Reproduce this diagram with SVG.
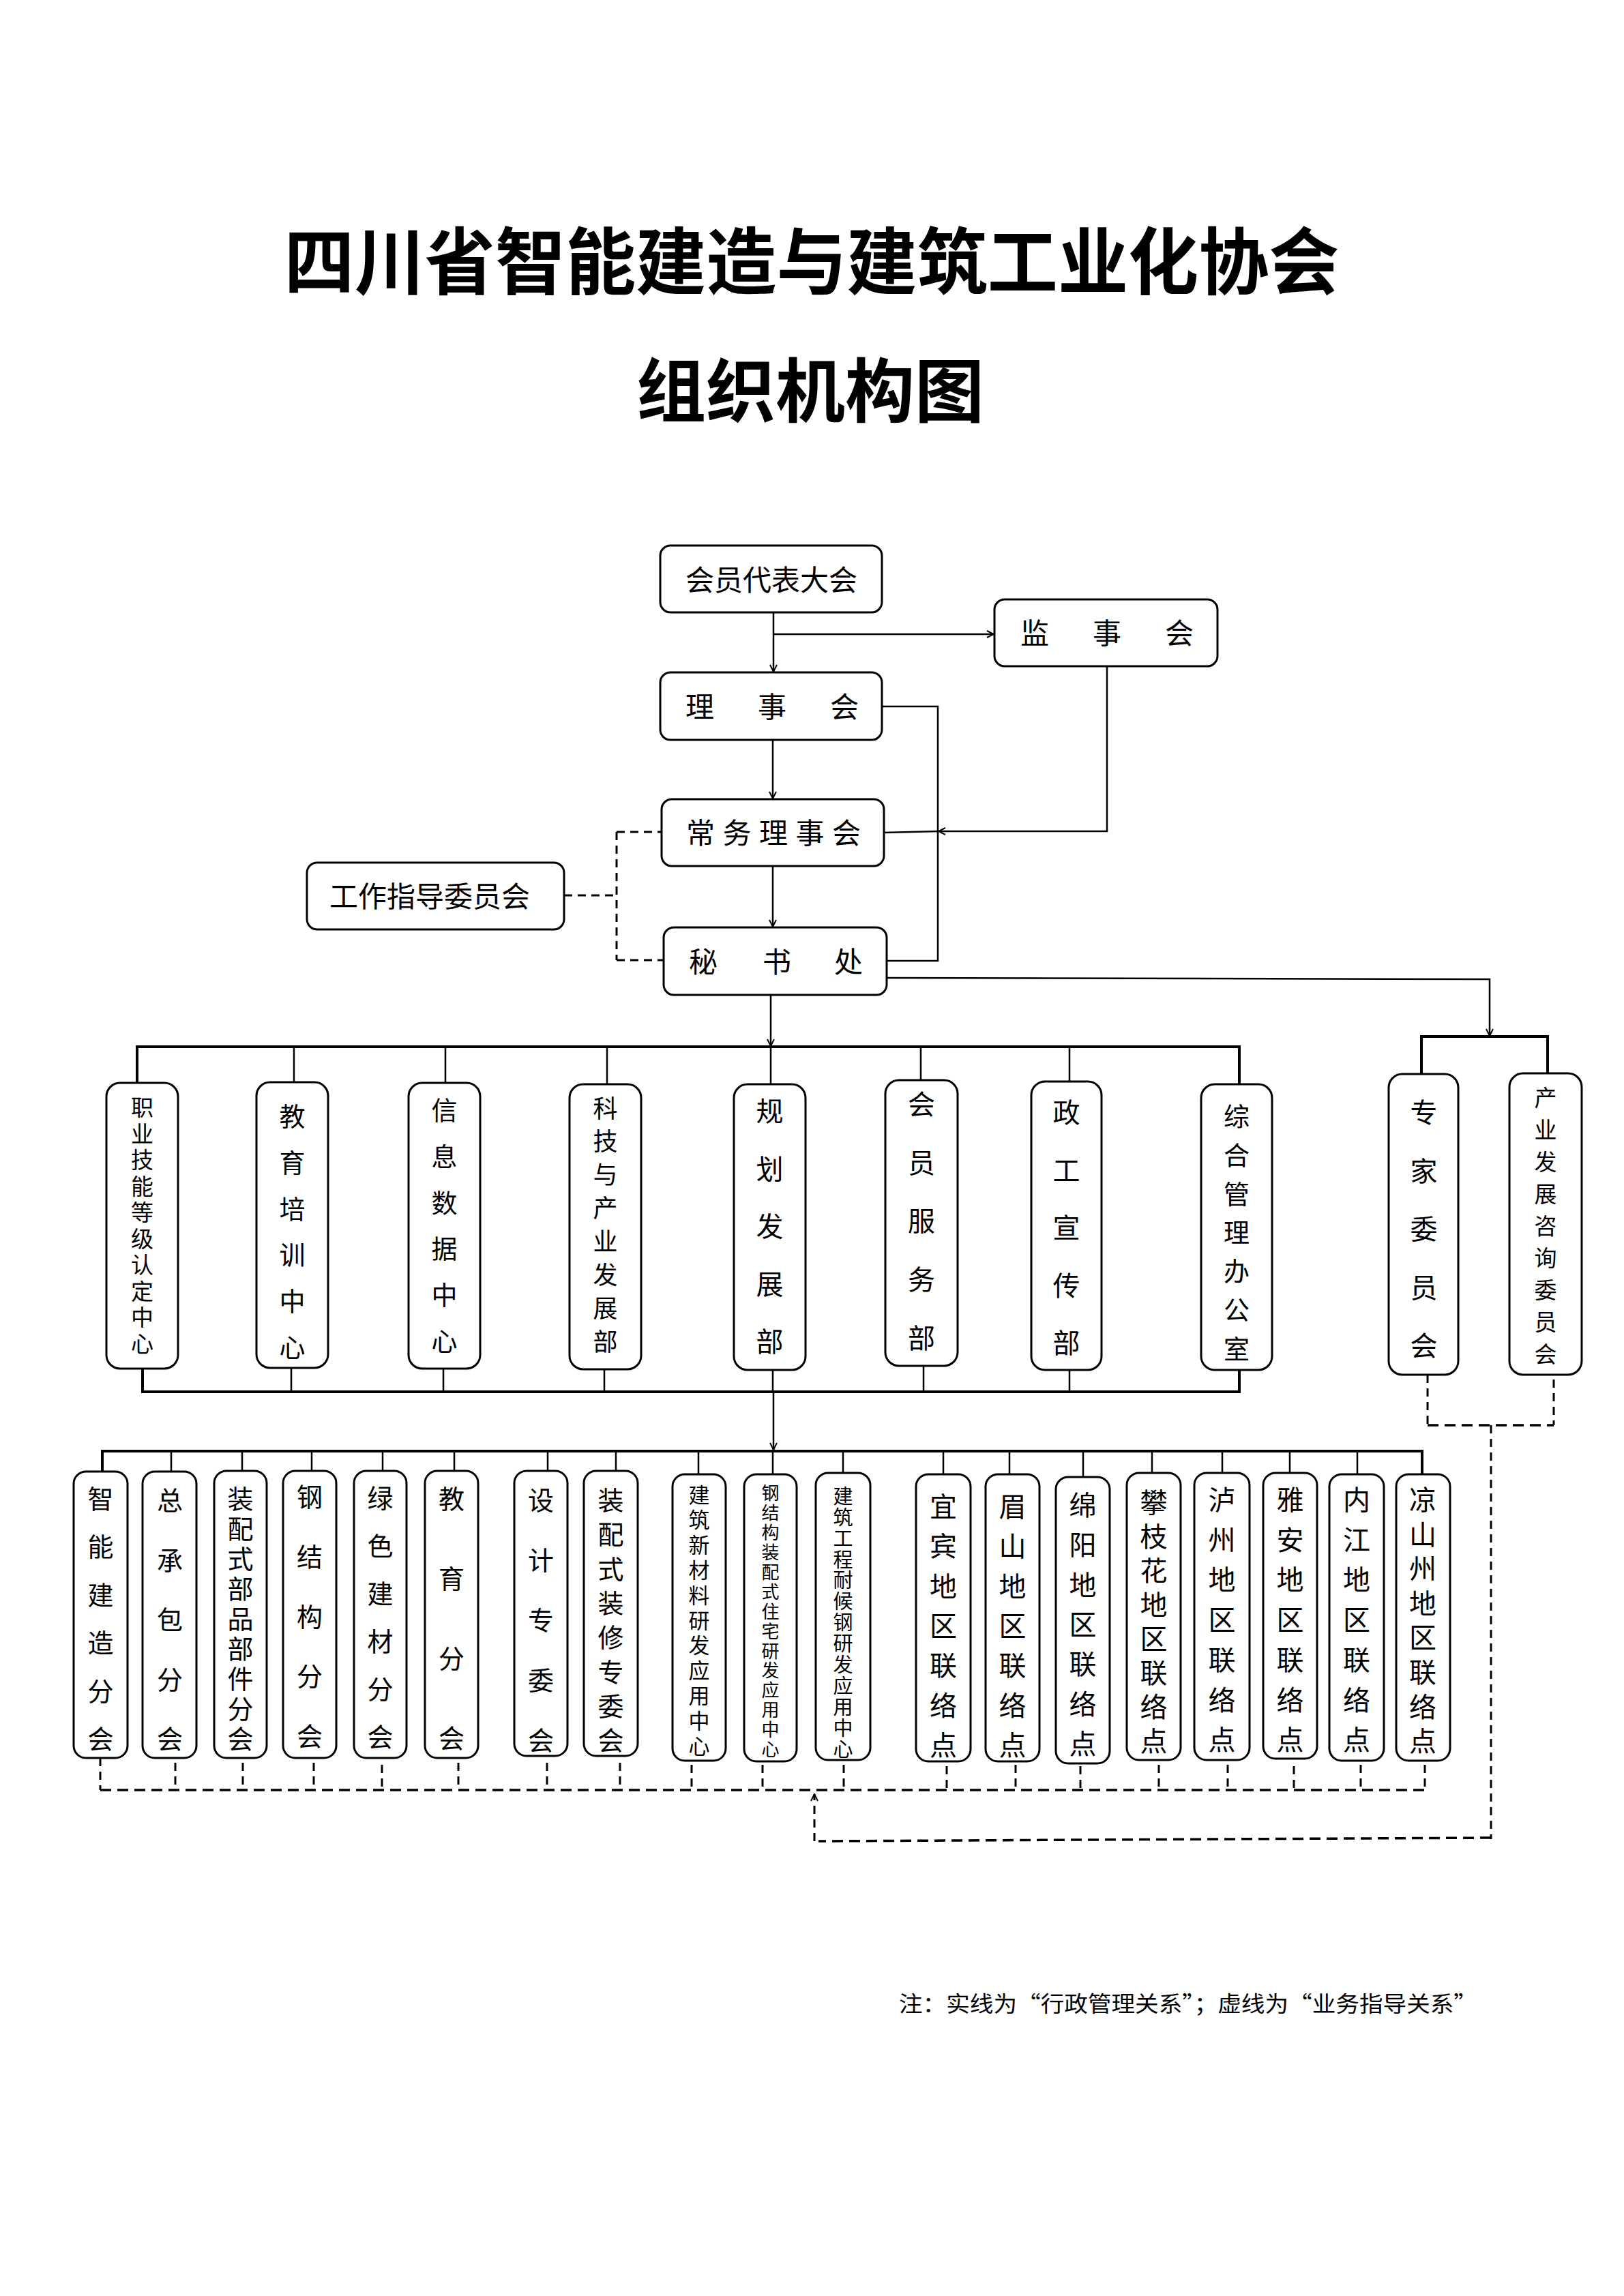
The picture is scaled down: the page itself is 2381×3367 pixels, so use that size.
<svg xmlns="http://www.w3.org/2000/svg" width="2381" height="3367" viewBox="0 0 2381 3367">
<style>
.bg{fill:#fff}
.box{fill:#fff;stroke:#000;stroke-width:3}
.t{font-family:"Noto Sans CJK SC","Liberation Sans",sans-serif;fill:#000}
.h{font-size:42px;text-anchor:middle}
.v{text-anchor:middle}
.ttl{font-family:"Noto Sans CJK SC","Liberation Sans",sans-serif;font-weight:700;fill:#000;text-anchor:middle}
.ln{fill:none;stroke:#000;stroke-width:2.5}
.thk{fill:none;stroke:#000;stroke-width:4}
.dh{fill:none;stroke:#000;stroke-width:3.5;stroke-dasharray:16 9}
.dv{fill:none;stroke:#000;stroke-width:3;stroke-dasharray:12 8}
</style>
<defs>
<marker id="arr" viewBox="0 0 12 12" refX="11" refY="6" markerWidth="12" markerHeight="12" markerUnits="userSpaceOnUse" orient="auto">
<path d="M1,1 L11,6 L1,11" fill="none" stroke="#000" stroke-width="2"/>
</marker>
</defs>
<rect class="bg" x="0" y="0" width="2381" height="3367"/>

<g id="title">
<text class="ttl" x="1190" y="423" font-size="107" textLength="1547" lengthAdjust="spacingAndGlyphs">四川省智能建造与建筑工业化协会</text>
<text class="ttl" x="1188" y="611" font-size="102" textLength="510" lengthAdjust="spacingAndGlyphs">组织机构图</text>
</g>

<g id="connectors">
<path class="ln" d="M1134,898 V985" marker-end="url(#arr)"/>
<path class="ln" d="M1134,930 H1457" marker-end="url(#arr)"/>
<path class="ln" d="M1133,1085 V1171" marker-end="url(#arr)"/>
<path class="ln" d="M1133,1270 V1359" marker-end="url(#arr)"/>
<path class="ln" d="M1293,1036 H1375 V1409 H1300"/>
<path class="ln" d="M1623,977 V1219 H1376" marker-end="url(#arr)"/>
<path class="ln" d="M1296,1221 L1376,1219"/>
<path class="dv" d="M827,1313 H904 M904,1220 V1408 M904,1220 H970 M904,1408 H973" stroke-dasharray="12 8"/>
<path class="ln" d="M1130,1459 V1534" marker-end="url(#arr)"/>
<path class="ln" d="M1300,1434 L2184,1436 V1519" marker-end="url(#arr)"/>
<path class="thk" d="M2084,1575 V1520 H2269 V1574"/>
<path class="thk" d="M201,1588 V1535 H1817 V1590"/>
<path class="ln" d="M431,1535 V1587 M653,1535 V1588 M890,1535 V1590 M1130,1535 V1590 M1350,1535 V1584 M1568,1535 V1586"/>
<path class="thk" d="M209,2007 V2041 H1817 V2009"/>
<path class="ln" d="M427,2006 V2041 M650,2007 V2041 M886,2008 V2041 M1133,2009 V2041 M1354,2003 V2041 M1568,2009 V2041"/>
<path class="ln" d="M1134,2041 V2126" marker-end="url(#arr)"/>
<path class="thk" d="M150,2158 V2128 H2087 M2085,2128 V2162"/>
<path class="ln" d="M251,2128 V2158 M355,2128 V2157 M457,2128 V2157 M561,2128 V2157 M666,2128 V2157 M803,2128 V2157 M903,2128 V2157 M1024,2128 V2162 M1133,2128 V2162 M1236,2128 V2160 M1383,2128 V2162 M1480,2128 V2162 M1588,2128 V2166 M1689,2128 V2160 M1792,2128 V2160 M1891,2128 V2160 M1990,2128 V2162"/>
<path class="dv" d="M2093,2016 V2090 M2278,2023 V2090"/>
<path class="dh" d="M2093,2090 H2278"/>
<path class="dv" d="M2186,2090 V2697" stroke-dasharray="16 10"/>
<path class="dh" d="M2186,2695 L1200,2700"/>
<path class="dv" d="M1194,2700 V2631" stroke-dasharray="14 9" marker-end="url(#arr)"/>
<path class="dv" d="M147,2578 V2625"/>
<path class="dh" d="M147,2625 H2089"/>
<path class="dv" d="M257,2585 V2620 M356,2585 V2620 M460,2585 V2620 M560,2588 V2622 M672,2585 V2620 M802,2585 V2620 M909,2585 V2620 M1014,2588 V2622 M1118,2588 V2622 M1237,2588 V2622 M1388,2590 V2622 M1489,2588 V2622 M1584,2590 V2622 M1699,2588 V2622 M1800,2588 V2622 M1897,2590 V2622 M1995,2588 V2622 M2089,2588 V2622"/>
</g>

<g id="n-hydb"><rect class="box" x="968" y="800" width="325" height="98" rx="15"/><text class="t h" x="1131" y="866">会员代表大会</text></g>
<g id="n-jsh"><rect class="box" x="1458" y="879" width="327" height="98" rx="15"/><text class="t h" x="1517 1623 1729" y="944">监事会</text></g>
<g id="n-lsh"><rect class="box" x="968" y="986" width="325" height="99" rx="15"/><text class="t h" x="1026 1132 1238" y="1052">理事会</text></g>
<g id="n-cwlsh"><rect class="box" x="970" y="1172" width="326" height="98" rx="15"/><text class="t h" x="1027 1080.5 1134 1187.5 1241" y="1237">常务理事会</text></g>
<g id="n-msc"><rect class="box" x="973" y="1360" width="327" height="99" rx="15"/><text class="t h" x="1031 1139 1244" y="1426">秘书处</text></g>
<g id="n-gzzd"><rect class="box" x="450" y="1265" width="377" height="98" rx="15"/><text class="t h" x="630" y="1330">工作指导委员会</text></g>

<g id="n-zyjn"><rect class="box" x="156" y="1588" width="105" height="419" rx="20"/><text class="t v" font-size="33" x="208.5 208.5 208.5 208.5 208.5 208.5 208.5 208.5 208.5 208.5" y="1636 1674.5 1713 1751.5 1790 1828.5 1867 1905.5 1944 1982.5">职业技能等级认定中心</text></g>
<g id="n-jypx"><rect class="box" x="376" y="1587" width="105" height="419" rx="20"/><text class="t v" font-size="38" x="428.5 428.5 428.5 428.5 428.5 428.5" y="1651 1718.8 1786.6 1854.4 1922.2 1990">教育培训中心</text></g>
<g id="n-xxsj"><rect class="box" x="599" y="1588" width="105" height="419" rx="20"/><text class="t v" font-size="38" x="651.5 651.5 651.5 651.5 651.5 651.5" y="1642 1709.8 1777.6 1845.4 1913.2 1981">信息数据中心</text></g>
<g id="n-kjcy"><rect class="box" x="835" y="1590" width="105" height="418" rx="20"/><text class="t v" font-size="36" x="887.5 887.5 887.5 887.5 887.5 887.5 887.5 887.5" y="1638.5 1687.4 1736.3 1785.2 1834.1 1883 1931.9 1980.8">科技与产业发展部</text></g>
<g id="n-ghfz"><rect class="box" x="1076" y="1590" width="105" height="419" rx="20"/><text class="t v" font-size="40" x="1128.5 1128.5 1128.5 1128.5 1128.5" y="1644 1728.5 1813 1897.5 1982">规划发展部</text></g>
<g id="n-hyfw"><rect class="box" x="1298" y="1584" width="106" height="419" rx="20"/><text class="t v" font-size="40" x="1351 1351 1351 1351 1351" y="1634 1719.7 1805.4 1891.1 1976.8">会员服务部</text></g>
<g id="n-zgxc"><rect class="box" x="1512" y="1586" width="103" height="423" rx="20"/><text class="t v" font-size="40" x="1563.5 1563.5 1563.5 1563.5 1563.5" y="1646 1730.5 1815 1899.5 1984">政工宣传部</text></g>
<g id="n-zhgl"><rect class="box" x="1761" y="1590" width="104" height="419" rx="20"/><text class="t v" font-size="38" x="1813 1813 1813 1813 1813 1813 1813" y="1651 1707.8 1764.6 1821.4 1878.2 1935 1991.8">综合管理办公室</text></g>
<g id="n-zjwyh"><rect class="box" x="2036" y="1575" width="102" height="441" rx="20"/><text class="t v" font-size="40" x="2087.5 2087.5 2087.5 2087.5 2087.5" y="1646 1731.5 1817 1902.5 1988">专家委员会</text></g>
<g id="n-cyfzzx"><rect class="box" x="2213" y="1574" width="106" height="442" rx="20"/><text class="t v" font-size="33" x="2266 2266 2266 2266 2266 2266 2266 2266 2266" y="1622 1669 1716 1763 1810 1857 1904 1951 1998">产业发展咨询委员会</text></g>

<g id="n-znjz"><rect class="box" x="108" y="2158" width="79" height="420" rx="18"/><text class="t v" font-size="38" x="147.5 147.5 147.5 147.5 147.5 147.5" y="2212 2282.4 2352.8 2423.2 2493.6 2564">智能建造分会</text></g>
<g id="n-zcb"><rect class="box" x="209" y="2158" width="79" height="420" rx="18"/><text class="t v" font-size="38" x="249 249 249 249 249" y="2214 2301.5 2389 2476.5 2564">总承包分会</text></g>
<g id="n-zpsbp"><rect class="box" x="314" y="2157" width="77" height="421" rx="18"/><text class="t v" font-size="38" x="352.5 352.5 352.5 352.5 352.5 352.5 352.5 352.5 352.5" y="2212 2256 2300 2344 2388 2432 2476 2520 2564">装配式部品部件分会</text></g>
<g id="n-gjg"><rect class="box" x="415" y="2157" width="78" height="421" rx="18"/><text class="t v" font-size="38" x="454 454 454 454 454" y="2209 2296.8 2384.6 2472.4 2560.2">钢结构分会</text></g>
<g id="n-lsjc"><rect class="box" x="519" y="2157" width="77" height="421" rx="18"/><text class="t v" font-size="38" x="557.5 557.5 557.5 557.5 557.5 557.5" y="2211 2281 2351 2421 2491 2561">绿色建材分会</text></g>
<g id="n-jyfh"><rect class="box" x="623" y="2157" width="78" height="421" rx="18"/><text class="t v" font-size="38" x="662 662 662 662" y="2212 2329 2446 2563">教育分会</text></g>
<g id="n-sjzw"><rect class="box" x="754" y="2157" width="78" height="418" rx="18"/><text class="t v" font-size="38" x="793 793 793 793 793" y="2214 2302 2390 2478 2566">设计专委会</text></g>
<g id="n-zpszx"><rect class="box" x="856" y="2157" width="79" height="418" rx="18"/><text class="t v" font-size="38" x="895.5 895.5 895.5 895.5 895.5 895.5 895.5 895.5" y="2214 2264.3 2314.6 2364.9 2415.2 2465.5 2515.8 2566.1">装配式装修专委会</text></g>
<g id="n-jzxcl"><rect class="box" x="986" y="2162" width="78" height="420" rx="18"/><text class="t v" font-size="31" x="1025 1025 1025 1025 1025 1025 1025 1025 1025 1025 1025" y="2203.5 2240.3 2277.1 2313.9 2350.7 2387.5 2424.3 2461.1 2497.9 2534.7 2571.5">建筑新材料研发应用中心</text></g>
<g id="n-gjgzz"><rect class="box" x="1091" y="2162" width="77" height="421" rx="18"/><text class="t v" font-size="26" x="1129.5 1129.5 1129.5 1129.5 1129.5 1129.5 1129.5 1129.5 1129.5 1129.5 1129.5 1129.5 1129.5 1129.5" y="2199.3 2228.2 2257.1 2286 2314.9 2343.8 2372.7 2401.6 2430.5 2459.4 2488.3 2517.2 2546.1 2575">钢结构装配式住宅研发应用中心</text></g>
<g id="n-jzgc"><rect class="box" x="1196" y="2160" width="80" height="421" rx="18"/><text class="t v" font-size="29" x="1236 1236 1236 1236 1236 1236 1236 1236 1236 1236 1236 1236 1236" y="2204.8 2235.7 2266.6 2297.5 2328.4 2359.3 2390.2 2421.1 2452 2482.9 2513.8 2544.7 2575.6">建筑工程耐候钢研发应用中心</text></g>
<g id="n-yb"><rect class="box" x="1343" y="2162" width="80" height="421" rx="18"/><text class="t v" font-size="40" x="1383 1383 1383 1383 1383 1383 1383" y="2224 2282.3 2340.6 2398.9 2457.2 2515.5 2573.8">宜宾地区联络点</text></g>
<g id="n-ms"><rect class="box" x="1445" y="2162" width="79" height="421" rx="18"/><text class="t v" font-size="40" x="1484.5 1484.5 1484.5 1484.5 1484.5 1484.5 1484.5" y="2224 2282.3 2340.6 2398.9 2457.2 2515.5 2573.8">眉山地区联络点</text></g>
<g id="n-my"><rect class="box" x="1548" y="2166" width="79" height="420" rx="18"/><text class="t v" font-size="40" x="1587.5 1587.5 1587.5 1587.5 1587.5 1587.5 1587.5" y="2222 2280.3 2338.6 2396.9 2455.2 2513.5 2571.8">绵阳地区联络点</text></g>
<g id="n-pzh"><rect class="box" x="1652" y="2160" width="79" height="421" rx="18"/><text class="t v" font-size="40" x="1691.5 1691.5 1691.5 1691.5 1691.5 1691.5 1691.5 1691.5" y="2218 2268 2318 2368 2418 2468 2518 2568">攀枝花地区联络点</text></g>
<g id="n-lz"><rect class="box" x="1751" y="2160" width="81" height="421" rx="18"/><text class="t v" font-size="40" x="1791.5 1791.5 1791.5 1791.5 1791.5 1791.5 1791.5" y="2214 2272.7 2331.4 2390.1 2448.8 2507.5 2566.2">泸州地区联络点</text></g>
<g id="n-ya"><rect class="box" x="1852" y="2160" width="79" height="419" rx="18"/><text class="t v" font-size="40" x="1891.5 1891.5 1891.5 1891.5 1891.5 1891.5 1891.5" y="2214 2272.7 2331.4 2390.1 2448.8 2507.5 2566.2">雅安地区联络点</text></g>
<g id="n-nj"><rect class="box" x="1949" y="2162" width="80" height="420" rx="18"/><text class="t v" font-size="40" x="1989 1989 1989 1989 1989 1989 1989" y="2214 2272.7 2331.4 2390.1 2448.8 2507.5 2566.2">内江地区联络点</text></g>
<g id="n-lsz"><rect class="box" x="2047" y="2162" width="79" height="420" rx="18"/><text class="t v" font-size="40" x="2086 2086 2086 2086 2086 2086 2086 2086" y="2214 2264.6 2315.2 2365.8 2416.4 2467 2517.6 2568.2">凉山州地区联络点</text></g>

<g id="note">
<text class="t" x="1318" y="2950" font-size="32" textLength="848" lengthAdjust="spacingAndGlyphs">注：实线为“行政管理关系”；虚线为“业务指导关系”</text>
</g>
</svg>
